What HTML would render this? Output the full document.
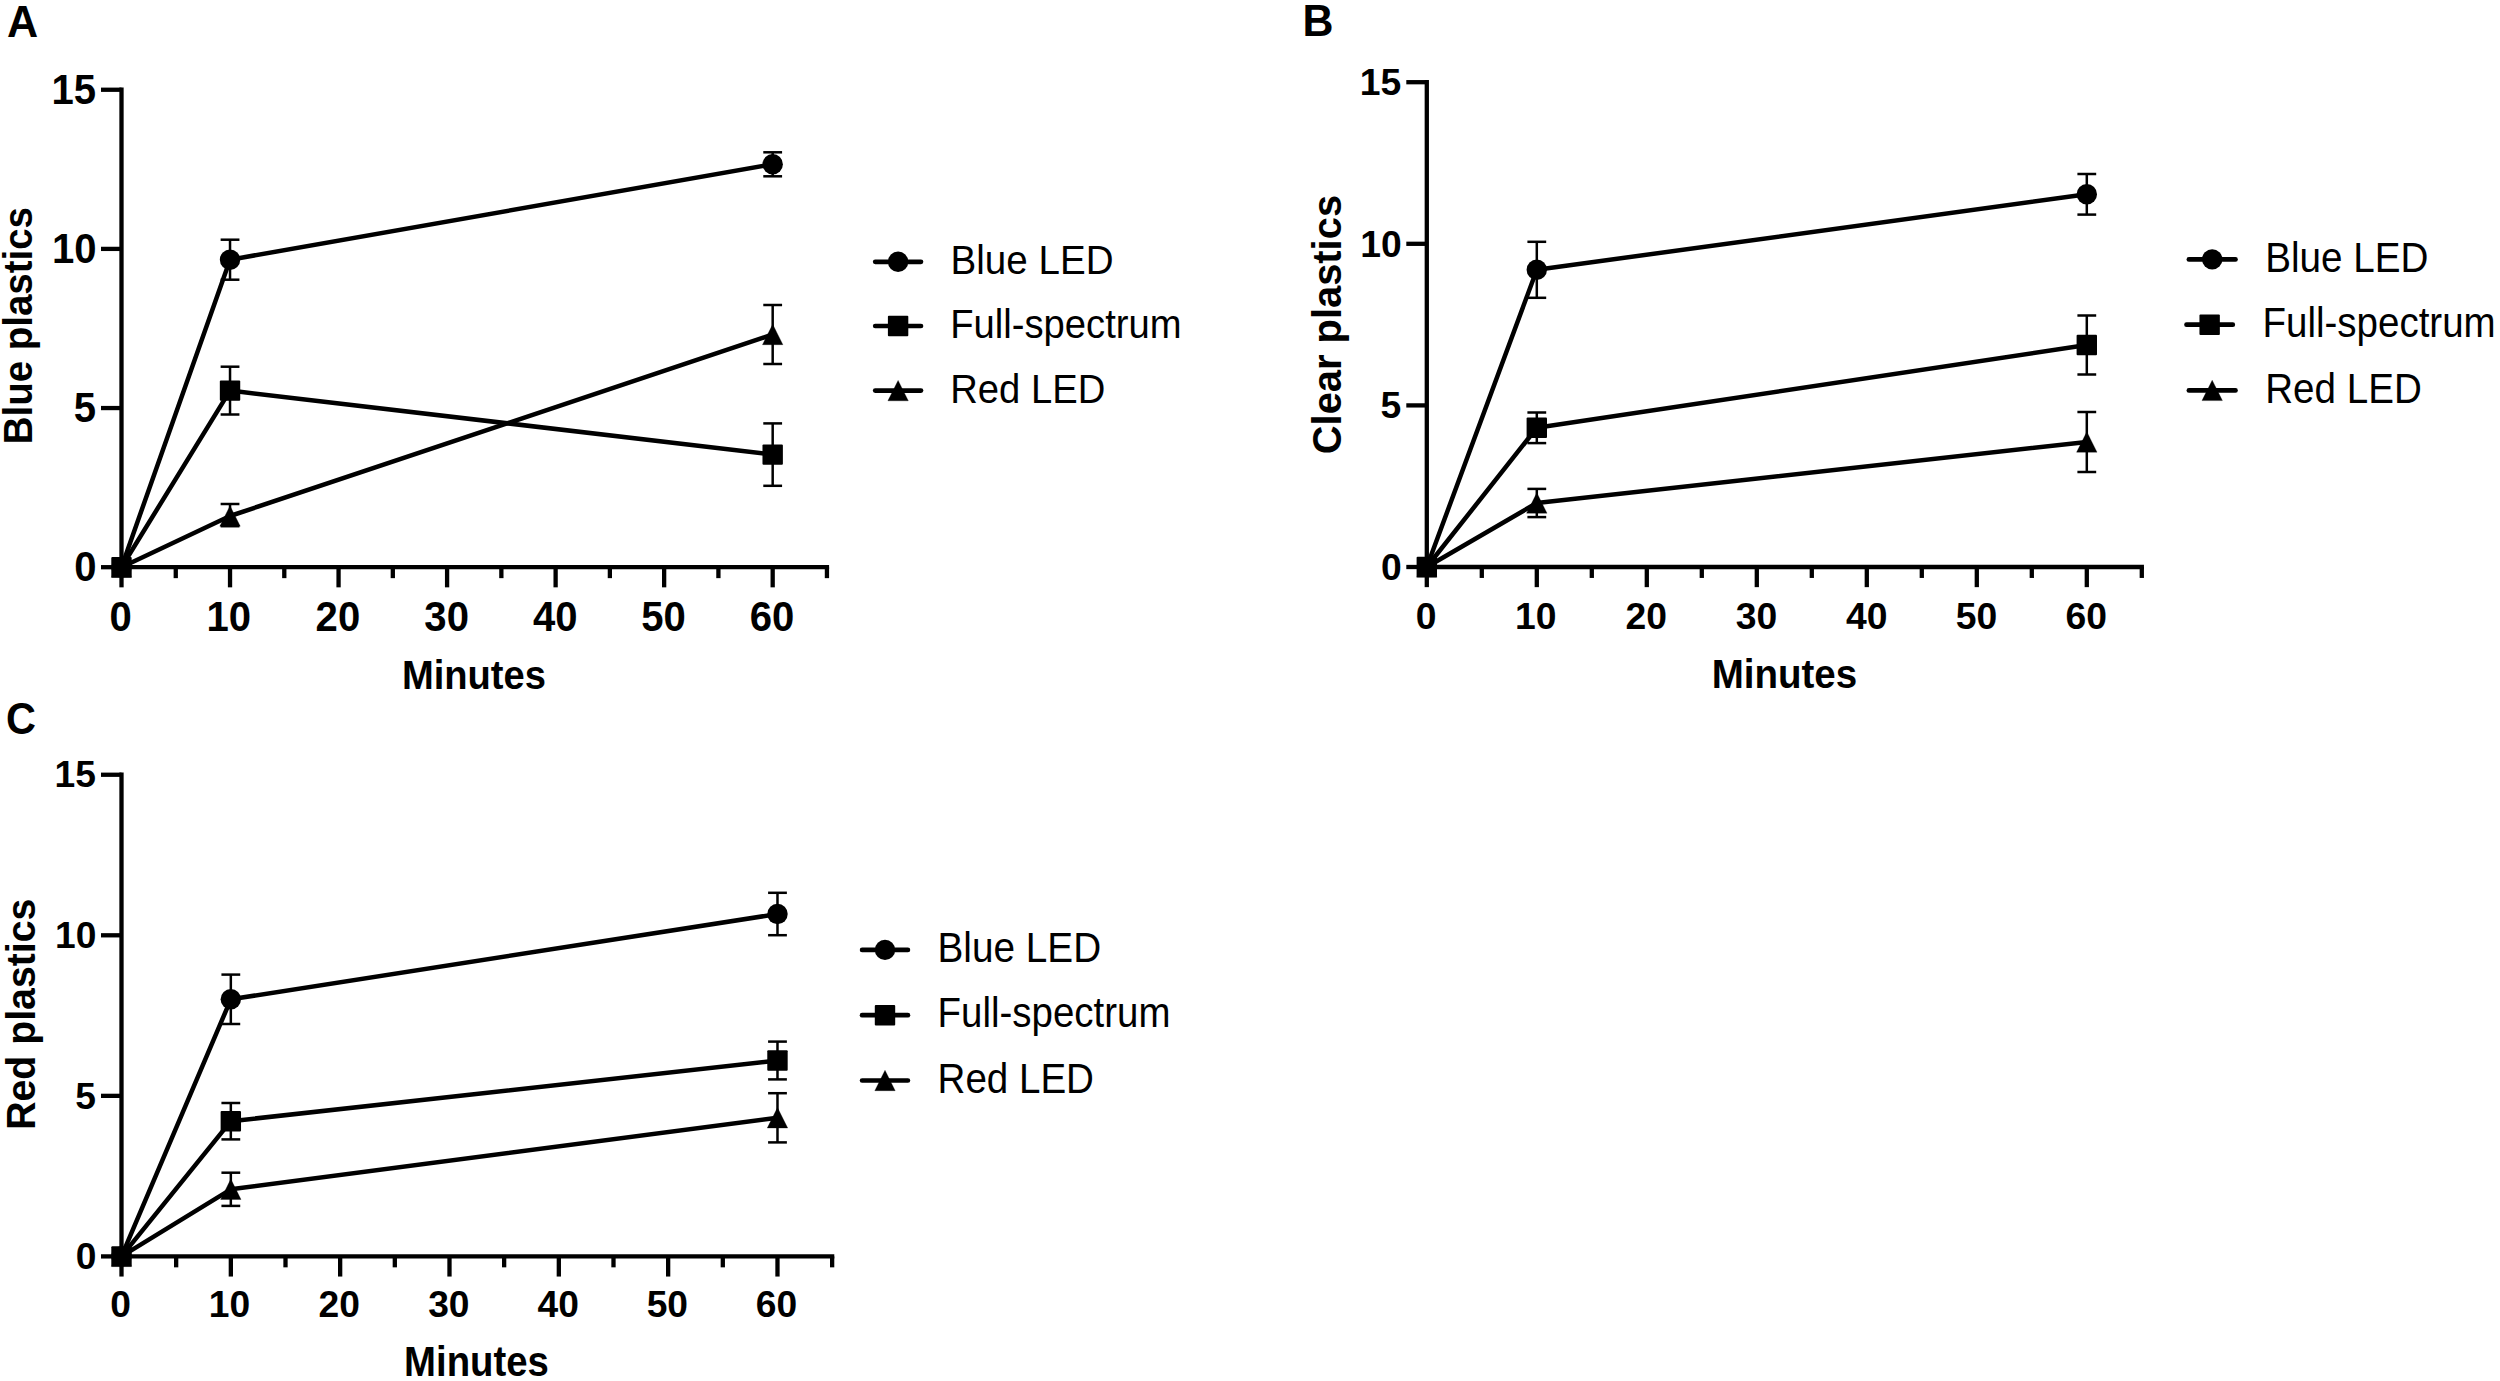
<!DOCTYPE html>
<html><head><meta charset="utf-8"><title>Figure</title>
<style>html,body{margin:0;padding:0;background:#fff;}svg{display:block}text{font-family:"Liberation Sans",Arial,Helvetica,sans-serif;fill:#000}</style>
</head><body>
<svg width="2500" height="1381" viewBox="0 0 2500 1381">
<rect width="2500" height="1381" fill="#fff"/>
<line x1="121.50" y1="569.35" x2="121.50" y2="87.60" stroke="#000" stroke-width="4.3" stroke-linecap="butt"/>
<line x1="119.35" y1="567.20" x2="829.09" y2="567.20" stroke="#000" stroke-width="4.3" stroke-linecap="butt"/>
<line x1="101.00" y1="567.20" x2="121.50" y2="567.20" stroke="#000" stroke-width="4.3" stroke-linecap="butt"/>
<text transform="translate(74.22,581.40) scale(0.9620,1)" font-size="41.67" font-weight="bold">0</text>
<line x1="101.00" y1="408.05" x2="121.50" y2="408.05" stroke="#000" stroke-width="4.3" stroke-linecap="butt"/>
<text transform="translate(73.70,422.25) scale(0.9620,1)" font-size="41.67" font-weight="bold">5</text>
<line x1="101.00" y1="248.90" x2="121.50" y2="248.90" stroke="#000" stroke-width="4.3" stroke-linecap="butt"/>
<text transform="translate(51.93,263.10) scale(0.9620,1)" font-size="41.67" font-weight="bold">10</text>
<line x1="101.00" y1="89.75" x2="121.50" y2="89.75" stroke="#000" stroke-width="4.3" stroke-linecap="butt"/>
<text transform="translate(51.41,103.95) scale(0.9620,1)" font-size="41.67" font-weight="bold">15</text>
<line x1="121.50" y1="567.20" x2="121.50" y2="587.35" stroke="#000" stroke-width="4.3" stroke-linecap="butt"/>
<text transform="translate(109.58,631.20) scale(0.9620,1)" font-size="41.67" font-weight="bold">0</text>
<line x1="175.76" y1="567.20" x2="175.76" y2="578.15" stroke="#000" stroke-width="4.3" stroke-linecap="butt"/>
<line x1="230.03" y1="567.20" x2="230.03" y2="587.35" stroke="#000" stroke-width="4.3" stroke-linecap="butt"/>
<text transform="translate(206.50,631.20) scale(0.9620,1)" font-size="41.67" font-weight="bold">10</text>
<line x1="284.29" y1="567.20" x2="284.29" y2="578.15" stroke="#000" stroke-width="4.3" stroke-linecap="butt"/>
<line x1="338.56" y1="567.20" x2="338.56" y2="587.35" stroke="#000" stroke-width="4.3" stroke-linecap="butt"/>
<text transform="translate(315.59,631.20) scale(0.9620,1)" font-size="41.67" font-weight="bold">20</text>
<line x1="392.82" y1="567.20" x2="392.82" y2="578.15" stroke="#000" stroke-width="4.3" stroke-linecap="butt"/>
<line x1="447.09" y1="567.20" x2="447.09" y2="587.35" stroke="#000" stroke-width="4.3" stroke-linecap="butt"/>
<text transform="translate(424.36,631.20) scale(0.9620,1)" font-size="41.67" font-weight="bold">30</text>
<line x1="501.36" y1="567.20" x2="501.36" y2="578.15" stroke="#000" stroke-width="4.3" stroke-linecap="butt"/>
<line x1="555.62" y1="567.20" x2="555.62" y2="587.35" stroke="#000" stroke-width="4.3" stroke-linecap="butt"/>
<text transform="translate(533.03,631.20) scale(0.9620,1)" font-size="41.67" font-weight="bold">40</text>
<line x1="609.88" y1="567.20" x2="609.88" y2="578.15" stroke="#000" stroke-width="4.3" stroke-linecap="butt"/>
<line x1="664.15" y1="567.20" x2="664.15" y2="587.35" stroke="#000" stroke-width="4.3" stroke-linecap="butt"/>
<text transform="translate(641.26,631.20) scale(0.9620,1)" font-size="41.67" font-weight="bold">50</text>
<line x1="718.41" y1="567.20" x2="718.41" y2="578.15" stroke="#000" stroke-width="4.3" stroke-linecap="butt"/>
<line x1="772.68" y1="567.20" x2="772.68" y2="587.35" stroke="#000" stroke-width="4.3" stroke-linecap="butt"/>
<text transform="translate(749.67,631.20) scale(0.9620,1)" font-size="41.67" font-weight="bold">60</text>
<line x1="826.94" y1="567.20" x2="826.94" y2="578.15" stroke="#000" stroke-width="4.3" stroke-linecap="butt"/>
<line x1="230.03" y1="239.70" x2="230.03" y2="279.70" stroke="#000" stroke-width="2.5" stroke-linecap="butt"/>
<line x1="220.63" y1="239.70" x2="239.43" y2="239.70" stroke="#000" stroke-width="2.5" stroke-linecap="butt"/>
<line x1="220.63" y1="279.70" x2="239.43" y2="279.70" stroke="#000" stroke-width="2.5" stroke-linecap="butt"/>
<line x1="772.68" y1="152.30" x2="772.68" y2="176.30" stroke="#000" stroke-width="2.5" stroke-linecap="butt"/>
<line x1="763.28" y1="152.30" x2="782.08" y2="152.30" stroke="#000" stroke-width="2.5" stroke-linecap="butt"/>
<line x1="763.28" y1="176.30" x2="782.08" y2="176.30" stroke="#000" stroke-width="2.5" stroke-linecap="butt"/>
<polyline points="121.50,567.20 230.03,259.70 772.68,164.30" fill="none" stroke="#000" stroke-width="4.5" stroke-linejoin="round"/>
<line x1="230.03" y1="366.70" x2="230.03" y2="414.50" stroke="#000" stroke-width="2.5" stroke-linecap="butt"/>
<line x1="220.63" y1="366.70" x2="239.43" y2="366.70" stroke="#000" stroke-width="2.5" stroke-linecap="butt"/>
<line x1="220.63" y1="414.50" x2="239.43" y2="414.50" stroke="#000" stroke-width="2.5" stroke-linecap="butt"/>
<line x1="772.68" y1="423.40" x2="772.68" y2="485.80" stroke="#000" stroke-width="2.5" stroke-linecap="butt"/>
<line x1="763.28" y1="423.40" x2="782.08" y2="423.40" stroke="#000" stroke-width="2.5" stroke-linecap="butt"/>
<line x1="763.28" y1="485.80" x2="782.08" y2="485.80" stroke="#000" stroke-width="2.5" stroke-linecap="butt"/>
<polyline points="121.50,567.20 230.03,390.60 772.68,454.60" fill="none" stroke="#000" stroke-width="4.5" stroke-linejoin="round"/>
<line x1="230.03" y1="504.00" x2="230.03" y2="526.20" stroke="#000" stroke-width="2.5" stroke-linecap="butt"/>
<line x1="220.63" y1="504.00" x2="239.43" y2="504.00" stroke="#000" stroke-width="2.5" stroke-linecap="butt"/>
<line x1="220.63" y1="526.20" x2="239.43" y2="526.20" stroke="#000" stroke-width="2.5" stroke-linecap="butt"/>
<line x1="772.68" y1="305.00" x2="772.68" y2="364.00" stroke="#000" stroke-width="2.5" stroke-linecap="butt"/>
<line x1="763.28" y1="305.00" x2="782.08" y2="305.00" stroke="#000" stroke-width="2.5" stroke-linecap="butt"/>
<line x1="763.28" y1="364.00" x2="782.08" y2="364.00" stroke="#000" stroke-width="2.5" stroke-linecap="butt"/>
<polyline points="121.50,567.20 230.03,516.00 772.68,334.50" fill="none" stroke="#000" stroke-width="4.5" stroke-linejoin="round"/>
<circle cx="230.03" cy="259.70" r="10.20" fill="#000"/>
<circle cx="772.68" cy="164.30" r="10.20" fill="#000"/>
<rect x="219.83" y="380.40" width="20.40" height="20.40" rx="1" fill="#000"/>
<rect x="762.48" y="444.40" width="20.40" height="20.40" rx="1" fill="#000"/>
<path d="M230.03,505.80 L240.23,526.20 L219.83,526.20 Z" fill="#000" stroke="#000" stroke-width="0.3" stroke-linejoin="round"/>
<path d="M772.68,324.30 L782.88,344.70 L762.48,344.70 Z" fill="#000" stroke="#000" stroke-width="0.3" stroke-linejoin="round"/>
<circle cx="121.50" cy="567.20" r="10.20" fill="#000"/>
<path d="M121.50,557.00 L131.70,577.40 L111.30,577.40 Z" fill="#000" stroke="#000" stroke-width="0.3" stroke-linejoin="round"/>
<rect x="111.30" y="557.00" width="20.40" height="20.40" rx="1" fill="#000"/>
<line x1="875.20" y1="261.80" x2="921.00" y2="261.80" stroke="#000" stroke-width="4.7" stroke-linecap="round"/>
<circle cx="898.10" cy="261.80" r="10.20" fill="#000"/>
<text transform="translate(950.54,273.90) scale(0.9388,1)" font-size="41.10" font-weight="normal">Blue LED</text>
<line x1="875.20" y1="326.00" x2="921.00" y2="326.00" stroke="#000" stroke-width="4.7" stroke-linecap="round"/>
<rect x="887.90" y="315.80" width="20.40" height="20.40" rx="1" fill="#000"/>
<text transform="translate(950.27,338.20) scale(0.9292,1)" font-size="41.10" font-weight="normal">Full-spectrum</text>
<line x1="875.20" y1="390.60" x2="921.00" y2="390.60" stroke="#000" stroke-width="4.7" stroke-linecap="round"/>
<path d="M898.10,380.40 L908.30,400.80 L887.90,400.80 Z" fill="#000" stroke="#000" stroke-width="0.3" stroke-linejoin="round"/>
<text transform="translate(950.27,402.70) scale(0.9298,1)" font-size="41.10" font-weight="normal">Red LED</text>
<text transform="translate(401.88,689.20) scale(0.9277,1)" font-size="41.10" font-weight="bold">Minutes</text>
<text transform="translate(31.50,444.24) rotate(-90) scale(0.9359,1)" font-size="41.10" font-weight="bold">Blue plastics</text>
<text transform="translate(6.96,36.70) scale(0.9735,1)" font-size="44.33" font-weight="bold">A</text>
<line x1="1426.80" y1="569.15" x2="1426.80" y2="80.05" stroke="#000" stroke-width="4.3" stroke-linecap="butt"/>
<line x1="1424.65" y1="567.00" x2="2143.95" y2="567.00" stroke="#000" stroke-width="4.3" stroke-linecap="butt"/>
<line x1="1406.30" y1="567.00" x2="1426.80" y2="567.00" stroke="#000" stroke-width="4.3" stroke-linecap="butt"/>
<text transform="translate(1381.06,579.80) scale(1.0000,1)" font-size="37.29" font-weight="bold">0</text>
<line x1="1406.30" y1="405.40" x2="1426.80" y2="405.40" stroke="#000" stroke-width="4.3" stroke-linecap="butt"/>
<text transform="translate(1380.57,418.20) scale(1.0000,1)" font-size="37.29" font-weight="bold">5</text>
<line x1="1406.30" y1="243.80" x2="1426.80" y2="243.80" stroke="#000" stroke-width="4.3" stroke-linecap="butt"/>
<text transform="translate(1360.33,256.60) scale(1.0000,1)" font-size="37.29" font-weight="bold">10</text>
<line x1="1406.30" y1="82.20" x2="1426.80" y2="82.20" stroke="#000" stroke-width="4.3" stroke-linecap="butt"/>
<text transform="translate(1359.84,95.00) scale(1.0000,1)" font-size="37.29" font-weight="bold">15</text>
<line x1="1426.80" y1="567.00" x2="1426.80" y2="587.15" stroke="#000" stroke-width="4.3" stroke-linecap="butt"/>
<text transform="translate(1415.85,628.70) scale(1.0000,1)" font-size="37.29" font-weight="bold">0</text>
<line x1="1481.80" y1="567.00" x2="1481.80" y2="577.95" stroke="#000" stroke-width="4.3" stroke-linecap="butt"/>
<line x1="1536.80" y1="567.00" x2="1536.80" y2="587.15" stroke="#000" stroke-width="4.3" stroke-linecap="butt"/>
<text transform="translate(1515.06,628.70) scale(1.0000,1)" font-size="37.29" font-weight="bold">10</text>
<line x1="1591.80" y1="567.00" x2="1591.80" y2="577.95" stroke="#000" stroke-width="4.3" stroke-linecap="butt"/>
<line x1="1646.80" y1="567.00" x2="1646.80" y2="587.15" stroke="#000" stroke-width="4.3" stroke-linecap="butt"/>
<text transform="translate(1625.58,628.70) scale(1.0000,1)" font-size="37.29" font-weight="bold">20</text>
<line x1="1701.80" y1="567.00" x2="1701.80" y2="577.95" stroke="#000" stroke-width="4.3" stroke-linecap="butt"/>
<line x1="1756.80" y1="567.00" x2="1756.80" y2="587.15" stroke="#000" stroke-width="4.3" stroke-linecap="butt"/>
<text transform="translate(1735.80,628.70) scale(1.0000,1)" font-size="37.29" font-weight="bold">30</text>
<line x1="1811.80" y1="567.00" x2="1811.80" y2="577.95" stroke="#000" stroke-width="4.3" stroke-linecap="butt"/>
<line x1="1866.80" y1="567.00" x2="1866.80" y2="587.15" stroke="#000" stroke-width="4.3" stroke-linecap="butt"/>
<text transform="translate(1845.93,628.70) scale(1.0000,1)" font-size="37.29" font-weight="bold">40</text>
<line x1="1921.80" y1="567.00" x2="1921.80" y2="577.95" stroke="#000" stroke-width="4.3" stroke-linecap="butt"/>
<line x1="1976.80" y1="567.00" x2="1976.80" y2="587.15" stroke="#000" stroke-width="4.3" stroke-linecap="butt"/>
<text transform="translate(1955.65,628.70) scale(1.0000,1)" font-size="37.29" font-weight="bold">50</text>
<line x1="2031.80" y1="567.00" x2="2031.80" y2="577.95" stroke="#000" stroke-width="4.3" stroke-linecap="butt"/>
<line x1="2086.80" y1="567.00" x2="2086.80" y2="587.15" stroke="#000" stroke-width="4.3" stroke-linecap="butt"/>
<text transform="translate(2065.54,628.70) scale(1.0000,1)" font-size="37.29" font-weight="bold">60</text>
<line x1="2141.80" y1="567.00" x2="2141.80" y2="577.95" stroke="#000" stroke-width="4.3" stroke-linecap="butt"/>
<line x1="1536.80" y1="241.80" x2="1536.80" y2="297.80" stroke="#000" stroke-width="2.5" stroke-linecap="butt"/>
<line x1="1527.40" y1="241.80" x2="1546.20" y2="241.80" stroke="#000" stroke-width="2.5" stroke-linecap="butt"/>
<line x1="1527.40" y1="297.80" x2="1546.20" y2="297.80" stroke="#000" stroke-width="2.5" stroke-linecap="butt"/>
<line x1="2086.80" y1="174.00" x2="2086.80" y2="214.60" stroke="#000" stroke-width="2.5" stroke-linecap="butt"/>
<line x1="2077.40" y1="174.00" x2="2096.20" y2="174.00" stroke="#000" stroke-width="2.5" stroke-linecap="butt"/>
<line x1="2077.40" y1="214.60" x2="2096.20" y2="214.60" stroke="#000" stroke-width="2.5" stroke-linecap="butt"/>
<polyline points="1426.80,567.00 1536.80,269.80 2086.80,194.30" fill="none" stroke="#000" stroke-width="4.5" stroke-linejoin="round"/>
<line x1="1536.80" y1="412.50" x2="1536.80" y2="443.10" stroke="#000" stroke-width="2.5" stroke-linecap="butt"/>
<line x1="1527.40" y1="412.50" x2="1546.20" y2="412.50" stroke="#000" stroke-width="2.5" stroke-linecap="butt"/>
<line x1="1527.40" y1="443.10" x2="1546.20" y2="443.10" stroke="#000" stroke-width="2.5" stroke-linecap="butt"/>
<line x1="2086.80" y1="315.50" x2="2086.80" y2="374.50" stroke="#000" stroke-width="2.5" stroke-linecap="butt"/>
<line x1="2077.40" y1="315.50" x2="2096.20" y2="315.50" stroke="#000" stroke-width="2.5" stroke-linecap="butt"/>
<line x1="2077.40" y1="374.50" x2="2096.20" y2="374.50" stroke="#000" stroke-width="2.5" stroke-linecap="butt"/>
<polyline points="1426.80,567.00 1536.80,427.80 2086.80,345.00" fill="none" stroke="#000" stroke-width="4.5" stroke-linejoin="round"/>
<line x1="1536.80" y1="488.90" x2="1536.80" y2="517.10" stroke="#000" stroke-width="2.5" stroke-linecap="butt"/>
<line x1="1527.40" y1="488.90" x2="1546.20" y2="488.90" stroke="#000" stroke-width="2.5" stroke-linecap="butt"/>
<line x1="1527.40" y1="517.10" x2="1546.20" y2="517.10" stroke="#000" stroke-width="2.5" stroke-linecap="butt"/>
<line x1="2086.80" y1="412.00" x2="2086.80" y2="472.00" stroke="#000" stroke-width="2.5" stroke-linecap="butt"/>
<line x1="2077.40" y1="412.00" x2="2096.20" y2="412.00" stroke="#000" stroke-width="2.5" stroke-linecap="butt"/>
<line x1="2077.40" y1="472.00" x2="2096.20" y2="472.00" stroke="#000" stroke-width="2.5" stroke-linecap="butt"/>
<polyline points="1426.80,567.00 1536.80,503.00 2086.80,442.00" fill="none" stroke="#000" stroke-width="4.5" stroke-linejoin="round"/>
<circle cx="1536.80" cy="269.80" r="10.20" fill="#000"/>
<circle cx="2086.80" cy="194.30" r="10.20" fill="#000"/>
<rect x="1526.60" y="417.60" width="20.40" height="20.40" rx="1" fill="#000"/>
<rect x="2076.60" y="334.80" width="20.40" height="20.40" rx="1" fill="#000"/>
<path d="M1536.80,492.80 L1547.00,513.20 L1526.60,513.20 Z" fill="#000" stroke="#000" stroke-width="0.3" stroke-linejoin="round"/>
<path d="M2086.80,431.80 L2097.00,452.20 L2076.60,452.20 Z" fill="#000" stroke="#000" stroke-width="0.3" stroke-linejoin="round"/>
<circle cx="1426.80" cy="567.00" r="10.20" fill="#000"/>
<path d="M1426.80,556.80 L1437.00,577.20 L1416.60,577.20 Z" fill="#000" stroke="#000" stroke-width="0.3" stroke-linejoin="round"/>
<rect x="1416.60" y="556.80" width="20.40" height="20.40" rx="1" fill="#000"/>
<line x1="2188.90" y1="259.40" x2="2235.50" y2="259.40" stroke="#000" stroke-width="4.7" stroke-linecap="round"/>
<circle cx="2212.20" cy="259.40" r="10.20" fill="#000"/>
<text transform="translate(2265.23,271.80) scale(0.9278,1)" font-size="41.66" font-weight="normal">Blue LED</text>
<line x1="2186.50" y1="324.70" x2="2232.80" y2="324.70" stroke="#000" stroke-width="4.7" stroke-linecap="round"/>
<rect x="2199.45" y="314.50" width="20.40" height="20.40" rx="1" fill="#000"/>
<text transform="translate(2262.44,337.40) scale(0.9247,1)" font-size="41.66" font-weight="normal">Full-spectrum</text>
<line x1="2188.90" y1="390.40" x2="2235.50" y2="390.40" stroke="#000" stroke-width="4.7" stroke-linecap="round"/>
<path d="M2212.20,380.20 L2222.40,400.60 L2202.00,400.60 Z" fill="#000" stroke="#000" stroke-width="0.3" stroke-linejoin="round"/>
<text transform="translate(2265.24,402.70) scale(0.9263,1)" font-size="41.66" font-weight="normal">Red LED</text>
<text transform="translate(1711.66,687.90) scale(0.9274,1)" font-size="41.52" font-weight="bold">Minutes</text>
<text transform="translate(1340.80,454.24) rotate(-90) scale(0.9703,1)" font-size="41.10" font-weight="bold">Clear plastics</text>
<text transform="translate(1302.57,36.30) scale(0.9801,1)" font-size="43.75" font-weight="bold">B</text>
<line x1="121.50" y1="1258.55" x2="121.50" y2="772.60" stroke="#000" stroke-width="4.3" stroke-linecap="butt"/>
<line x1="119.35" y1="1256.40" x2="834.29" y2="1256.40" stroke="#000" stroke-width="4.3" stroke-linecap="butt"/>
<line x1="101.00" y1="1256.40" x2="121.50" y2="1256.40" stroke="#000" stroke-width="4.3" stroke-linecap="butt"/>
<text transform="translate(75.71,1269.10) scale(0.9900,1)" font-size="37.57" font-weight="bold">0</text>
<line x1="101.00" y1="1095.85" x2="121.50" y2="1095.85" stroke="#000" stroke-width="4.3" stroke-linecap="butt"/>
<text transform="translate(75.22,1108.55) scale(0.9900,1)" font-size="37.57" font-weight="bold">5</text>
<line x1="101.00" y1="935.30" x2="121.50" y2="935.30" stroke="#000" stroke-width="4.3" stroke-linecap="butt"/>
<text transform="translate(55.03,948.00) scale(0.9900,1)" font-size="37.57" font-weight="bold">10</text>
<line x1="101.00" y1="774.75" x2="121.50" y2="774.75" stroke="#000" stroke-width="4.3" stroke-linecap="butt"/>
<text transform="translate(54.54,787.45) scale(0.9900,1)" font-size="37.57" font-weight="bold">15</text>
<line x1="121.50" y1="1256.40" x2="121.50" y2="1276.55" stroke="#000" stroke-width="4.3" stroke-linecap="butt"/>
<text transform="translate(110.18,1317.30) scale(0.9900,1)" font-size="37.57" font-weight="bold">0</text>
<line x1="176.16" y1="1256.40" x2="176.16" y2="1267.35" stroke="#000" stroke-width="4.3" stroke-linecap="butt"/>
<line x1="230.83" y1="1256.40" x2="230.83" y2="1276.55" stroke="#000" stroke-width="4.3" stroke-linecap="butt"/>
<text transform="translate(208.74,1317.30) scale(0.9900,1)" font-size="37.57" font-weight="bold">10</text>
<line x1="285.50" y1="1256.40" x2="285.50" y2="1267.35" stroke="#000" stroke-width="4.3" stroke-linecap="butt"/>
<line x1="340.16" y1="1256.40" x2="340.16" y2="1276.55" stroke="#000" stroke-width="4.3" stroke-linecap="butt"/>
<text transform="translate(318.59,1317.30) scale(0.9900,1)" font-size="37.57" font-weight="bold">20</text>
<line x1="394.82" y1="1256.40" x2="394.82" y2="1267.35" stroke="#000" stroke-width="4.3" stroke-linecap="butt"/>
<line x1="449.49" y1="1256.40" x2="449.49" y2="1276.55" stroke="#000" stroke-width="4.3" stroke-linecap="butt"/>
<text transform="translate(428.14,1317.30) scale(0.9900,1)" font-size="37.57" font-weight="bold">30</text>
<line x1="504.15" y1="1256.40" x2="504.15" y2="1267.35" stroke="#000" stroke-width="4.3" stroke-linecap="butt"/>
<line x1="558.82" y1="1256.40" x2="558.82" y2="1276.55" stroke="#000" stroke-width="4.3" stroke-linecap="butt"/>
<text transform="translate(537.60,1317.30) scale(0.9900,1)" font-size="37.57" font-weight="bold">40</text>
<line x1="613.49" y1="1256.40" x2="613.49" y2="1267.35" stroke="#000" stroke-width="4.3" stroke-linecap="butt"/>
<line x1="668.15" y1="1256.40" x2="668.15" y2="1276.55" stroke="#000" stroke-width="4.3" stroke-linecap="butt"/>
<text transform="translate(646.66,1317.30) scale(0.9900,1)" font-size="37.57" font-weight="bold">50</text>
<line x1="722.81" y1="1256.40" x2="722.81" y2="1267.35" stroke="#000" stroke-width="4.3" stroke-linecap="butt"/>
<line x1="777.48" y1="1256.40" x2="777.48" y2="1276.55" stroke="#000" stroke-width="4.3" stroke-linecap="butt"/>
<text transform="translate(755.87,1317.30) scale(0.9900,1)" font-size="37.57" font-weight="bold">60</text>
<line x1="832.14" y1="1256.40" x2="832.14" y2="1267.35" stroke="#000" stroke-width="4.3" stroke-linecap="butt"/>
<line x1="230.83" y1="974.60" x2="230.83" y2="1024.00" stroke="#000" stroke-width="2.5" stroke-linecap="butt"/>
<line x1="221.43" y1="974.60" x2="240.23" y2="974.60" stroke="#000" stroke-width="2.5" stroke-linecap="butt"/>
<line x1="221.43" y1="1024.00" x2="240.23" y2="1024.00" stroke="#000" stroke-width="2.5" stroke-linecap="butt"/>
<line x1="777.48" y1="892.80" x2="777.48" y2="935.20" stroke="#000" stroke-width="2.5" stroke-linecap="butt"/>
<line x1="768.08" y1="892.80" x2="786.88" y2="892.80" stroke="#000" stroke-width="2.5" stroke-linecap="butt"/>
<line x1="768.08" y1="935.20" x2="786.88" y2="935.20" stroke="#000" stroke-width="2.5" stroke-linecap="butt"/>
<polyline points="121.50,1256.40 230.83,999.30 777.48,914.00" fill="none" stroke="#000" stroke-width="4.5" stroke-linejoin="round"/>
<line x1="230.83" y1="1103.00" x2="230.83" y2="1139.40" stroke="#000" stroke-width="2.5" stroke-linecap="butt"/>
<line x1="221.43" y1="1103.00" x2="240.23" y2="1103.00" stroke="#000" stroke-width="2.5" stroke-linecap="butt"/>
<line x1="221.43" y1="1139.40" x2="240.23" y2="1139.40" stroke="#000" stroke-width="2.5" stroke-linecap="butt"/>
<line x1="777.48" y1="1041.60" x2="777.48" y2="1079.40" stroke="#000" stroke-width="2.5" stroke-linecap="butt"/>
<line x1="768.08" y1="1041.60" x2="786.88" y2="1041.60" stroke="#000" stroke-width="2.5" stroke-linecap="butt"/>
<line x1="768.08" y1="1079.40" x2="786.88" y2="1079.40" stroke="#000" stroke-width="2.5" stroke-linecap="butt"/>
<polyline points="121.50,1256.40 230.83,1121.20 777.48,1060.50" fill="none" stroke="#000" stroke-width="4.5" stroke-linejoin="round"/>
<line x1="230.83" y1="1172.70" x2="230.83" y2="1205.90" stroke="#000" stroke-width="2.5" stroke-linecap="butt"/>
<line x1="221.43" y1="1172.70" x2="240.23" y2="1172.70" stroke="#000" stroke-width="2.5" stroke-linecap="butt"/>
<line x1="221.43" y1="1205.90" x2="240.23" y2="1205.90" stroke="#000" stroke-width="2.5" stroke-linecap="butt"/>
<line x1="777.48" y1="1093.20" x2="777.48" y2="1142.40" stroke="#000" stroke-width="2.5" stroke-linecap="butt"/>
<line x1="768.08" y1="1093.20" x2="786.88" y2="1093.20" stroke="#000" stroke-width="2.5" stroke-linecap="butt"/>
<line x1="768.08" y1="1142.40" x2="786.88" y2="1142.40" stroke="#000" stroke-width="2.5" stroke-linecap="butt"/>
<polyline points="121.50,1256.40 230.83,1189.30 777.48,1117.80" fill="none" stroke="#000" stroke-width="4.5" stroke-linejoin="round"/>
<circle cx="230.83" cy="999.30" r="10.20" fill="#000"/>
<circle cx="777.48" cy="914.00" r="10.20" fill="#000"/>
<rect x="220.63" y="1111.00" width="20.40" height="20.40" rx="1" fill="#000"/>
<rect x="767.28" y="1050.30" width="20.40" height="20.40" rx="1" fill="#000"/>
<path d="M230.83,1179.10 L241.03,1199.50 L220.63,1199.50 Z" fill="#000" stroke="#000" stroke-width="0.3" stroke-linejoin="round"/>
<path d="M777.48,1107.60 L787.68,1128.00 L767.28,1128.00 Z" fill="#000" stroke="#000" stroke-width="0.3" stroke-linejoin="round"/>
<circle cx="121.50" cy="1256.40" r="10.20" fill="#000"/>
<path d="M121.50,1246.20 L131.70,1266.60 L111.30,1266.60 Z" fill="#000" stroke="#000" stroke-width="0.3" stroke-linejoin="round"/>
<rect x="111.30" y="1246.20" width="20.40" height="20.40" rx="1" fill="#000"/>
<line x1="862.10" y1="949.90" x2="907.90" y2="949.90" stroke="#000" stroke-width="4.7" stroke-linecap="round"/>
<circle cx="885.00" cy="949.90" r="10.20" fill="#000"/>
<text transform="translate(937.52,962.40) scale(0.9296,1)" font-size="41.66" font-weight="normal">Blue LED</text>
<line x1="862.10" y1="1015.20" x2="907.90" y2="1015.20" stroke="#000" stroke-width="4.7" stroke-linecap="round"/>
<rect x="874.80" y="1005.00" width="20.40" height="20.40" rx="1" fill="#000"/>
<text transform="translate(937.54,1027.40) scale(0.9235,1)" font-size="41.66" font-weight="normal">Full-spectrum</text>
<line x1="862.10" y1="1080.50" x2="907.90" y2="1080.50" stroke="#000" stroke-width="4.7" stroke-linecap="round"/>
<path d="M885.00,1070.30 L895.20,1090.70 L874.80,1090.70 Z" fill="#000" stroke="#000" stroke-width="0.3" stroke-linejoin="round"/>
<text transform="translate(937.54,1092.70) scale(0.9257,1)" font-size="41.66" font-weight="normal">Red LED</text>
<text transform="translate(404.07,1376.10) scale(0.9203,1)" font-size="41.66" font-weight="bold">Minutes</text>
<text transform="translate(35.10,1129.79) rotate(-90) scale(0.9581,1)" font-size="40.96" font-weight="bold">Red plastics</text>
<text transform="translate(5.90,734.20) scale(0.9255,1)" font-size="44.77" font-weight="bold">C</text>
</svg>
</body></html>
